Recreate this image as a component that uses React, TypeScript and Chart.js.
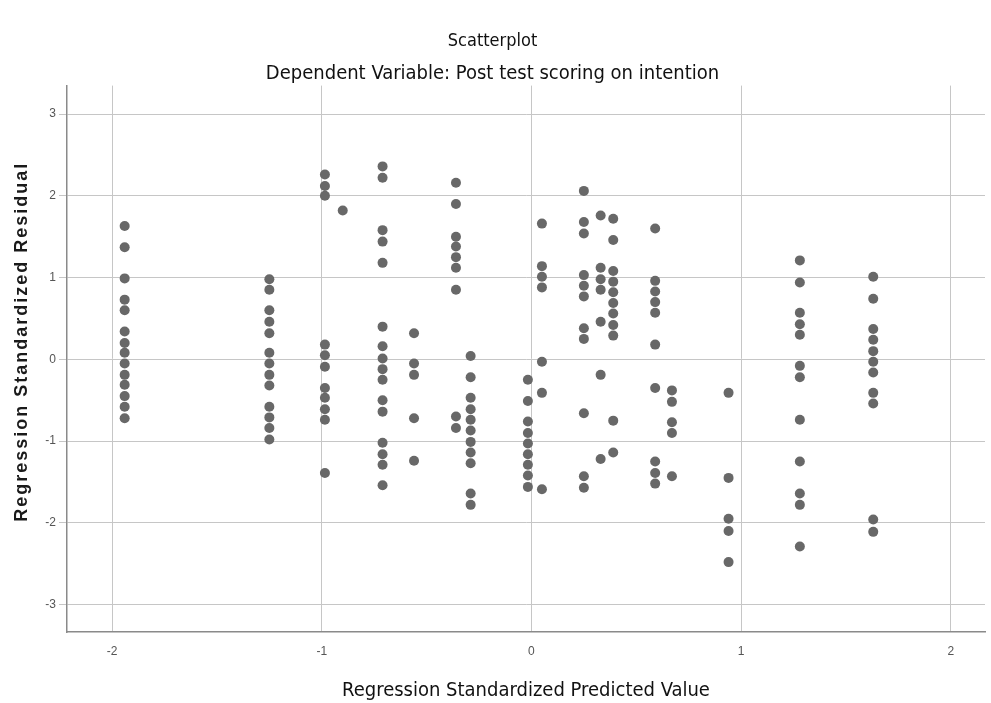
import React, { useEffect, useRef } from "react";
import { Chart, registerables } from "chart.js";

Chart.register(...registerables);

// Predicted value (x) of each vertical column of points
const predictedLevels = [-1.94, -1.25, -0.985, -0.9, -0.71, -0.56, -0.36, -0.29, -0.017, 0.05, 0.25, 0.33, 0.39, 0.59, 0.67, 0.94, 1.28, 1.63];

// Standardized residuals (y) in each column
const resA = [1.63, 1.37, 0.99, 0.73, 0.6, 0.34, 0.2, 0.08, -0.05, -0.19, -0.31, -0.45, -0.58, -0.72];
const resB = [0.98, 0.85, 0.6, 0.46, 0.32, 0.08, -0.05, -0.19, -0.32, -0.58, -0.71, -0.84, -0.98];
const resC = [2.26, 2.12, 2.0, 0.18, 0.05, -0.09, -0.35, -0.47, -0.61, -0.74, -1.39];
const resC2 = [1.82];
const resD = [2.36, 2.22, 1.58, 1.44, 1.18, 0.4, 0.16, 0.01, -0.12, -0.25, -0.5, -0.64, -1.02, -1.16, -1.29, -1.54];
const resE = [0.32, -0.05, -0.19, -0.72, -1.24];
const resF = [2.16, 1.9, 1.5, 1.38, 1.25, 1.12, 0.85, -0.7, -0.84];
const resG = [0.04, -0.22, -0.47, -0.61, -0.74, -0.87, -1.01, -1.14, -1.27, -1.64, -1.78];
const resH = [-0.25, -0.51, -0.76, -0.9, -1.03, -1.16, -1.29, -1.42, -1.56];
const resI = [1.66, 1.14, 1.01, 0.88, -0.03, -0.41, -1.59];
const resJ = [2.06, 1.68, 1.54, 1.03, 0.9, 0.77, 0.38, 0.25, -0.66, -1.43, -1.57];
const resK = [1.76, 1.12, 0.98, 0.85, 0.46, -0.19, -1.22];
const resL = [1.72, 1.46, 1.08, 0.95, 0.82, 0.69, 0.56, 0.42, 0.29, -0.75, -1.14];
const resM = [1.6, 0.96, 0.83, 0.7, 0.57, 0.18, -0.35, -1.25, -1.39, -1.52];
const resN = [-0.38, -0.52, -0.77, -0.9, -1.43];
const resO = [-0.41, -1.45, -1.95, -2.1, -2.48];
const resP = [1.21, 0.94, 0.57, 0.43, 0.3, -0.08, -0.22, -0.74, -1.25, -1.64, -1.78, -2.29];
const resQ = [1.01, 0.74, 0.37, 0.24, 0.1, -0.03, -0.16, -0.41, -0.54, -1.96, -2.11];

const residualColumns = [resA, resB, resC, resC2, resD, resE, resF, resG, resH, resI, resJ, resK, resL, resM, resN, resO, resP, resQ];

const xTicks = [-2, -1, 0, 1, 2];
const yTicks = [-3, -2, -1, 0, 1, 2, 3];

const titleText = "Scatterplot";
const subtitleText = "Dependent Variable: Post test scoring on intention";
const xTitle = "Regression Standardized Predicted Value";
const yTitle = "Regression Standardized Residual";

const NARROW = "'Liberation Sans Narrow', 'Arial Narrow', 'DejaVu Sans Condensed', 'Liberation Sans', sans-serif";
const SANS = "'Liberation Sans', Arial, sans-serif";

const yTitlePlugin = {
  id: "yTitleSpaced",
  afterDraw(chart: any) {
    const { ctx, chartArea } = chart;
    ctx.save();
    const cy = (chartArea.top + chartArea.bottom) / 2 - 17;
    ctx.translate(22, cy);
    ctx.rotate(-Math.PI / 2);
    ctx.font = `bold 18px ${SANS}`;
    try {
      (ctx as any).letterSpacing = "2px";
    } catch (e) {}
    ctx.fillStyle = "#1a1a1a";
    ctx.textAlign = "center";
    ctx.textBaseline = "middle";
    ctx.fillText(yTitle, 0, 0);
    ctx.restore();
  },
};

export default function App() {
  const ref = useRef<HTMLCanvasElement | null>(null);

  useEffect(() => {
    if (!ref.current) return;
    const points: { x: number; y: number }[] = [];
    residualColumns.forEach((col, i) => {
      col.forEach((r) => points.push({ x: predictedLevels[i], y: r }));
    });

    const chart = new Chart(ref.current, {
      type: "scatter",
      data: {
        datasets: [
          {
            data: points,
            backgroundColor: "#686868",
            borderWidth: 0,
            pointRadius: 5,
            pointHoverRadius: 5,
          },
        ],
      },
      plugins: [yTitlePlugin],
      options: {
        responsive: false,
        animation: false,
        layout: { padding: { left: 0, right: 6, top: 0, bottom: 0 } },
        plugins: {
          legend: { display: false },
          tooltip: { enabled: false },
          title: {
            display: true,
            text: titleText,
            color: "#111",
            font: { family: NARROW, size: 18, weight: "normal" },
            padding: { top: 31, bottom: 0 },
          },
          subtitle: {
            display: true,
            text: subtitleText,
            color: "#111",
            font: { family: NARROW, size: 20, weight: "normal" },
            padding: { top: 9, bottom: 0 },
          },
        },
        scales: {
          x: {
            type: "linear",
            min: -2.215,
            max: 2.163,
            afterBuildTicks: (scale: any) => {
              scale.ticks = xTicks.map((v) => ({ value: v }));
            },
            afterFit: (scale: any) => {
              scale.height = 71;
            },
            ticks: {
              color: "#555",
              font: { family: SANS, size: 12 },
              padding: 12,
              maxRotation: 0,
              callback: (v: any) => String(v),
            },
            grid: { color: "#c6c6c6", lineWidth: 1, drawTicks: false },
            border: { display: true, color: "#8a8a8a", width: 1.5 },
            title: {
              display: true,
              text: xTitle,
              color: "#111",
              font: { family: NARROW, size: 20, weight: "normal" },
              padding: { top: 0, bottom: 0 },
            },
          },
          y: {
            type: "linear",
            min: -3.335,
            max: 3.348,
            afterBuildTicks: (scale: any) => {
              scale.ticks = yTicks.map((v) => ({ value: v }));
            },
            afterFit: (scale: any) => {
              scale.width = 67;
            },
            ticks: {
              color: "#555",
              font: { family: SANS, size: 12 },
              padding: 3,
              callback: (v: any) => String(v),
            },
            grid: { color: "#c6c6c6", lineWidth: 1, drawTicks: true, tickLength: 8 },
            border: { display: true, color: "#8a8a8a", width: 1.5 },
            title: { display: false, text: yTitle },
          },
        },
      },
    });
    return () => chart.destroy();
  }, []);

  return (
    <div style={{ position: "fixed", left: 0, top: 0, width: 991, height: 703, background: "#fff" }}>
      <canvas ref={ref} width={991} height={703} />
    </div>
  );
}
